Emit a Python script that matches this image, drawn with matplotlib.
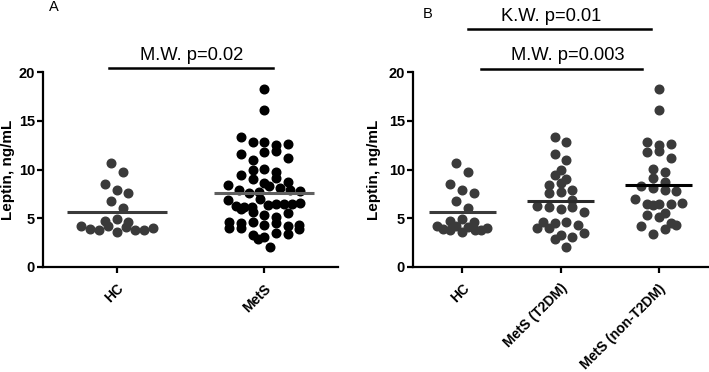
import numpy as np
import matplotlib.pyplot as plt

plt.rcParams['font.family'] = ['Liberation Sans', 'DejaVu Sans']

# Leptin values (ng/mL)
hc = [10.67, 9.78, 8.52, 7.9, 7.6, 6.81, 6.05, 4.72, 4.96, 4.65,
      4.17, 3.87, 3.77, 4.17, 3.63, 4.06, 3.84, 3.84, 3.97]
mets_t2dm = [13.3, 12.8, 11.6, 11.0, 10.0, 9.4, 9.05, 8.4, 8.6, 7.9,
             7.55, 7.65, 6.9, 6.29, 6.12, 6.0, 6.19, 5.67,
             4.65, 4.55, 4.65, 4.0, 3.95, 4.3, 3.3, 3.1, 3.5, 2.9, 2.05]
mets_non_t2dm = [18.3, 16.1, 12.83, 12.48, 12.65, 11.8, 11.9, 11.2, 10.1, 9.75,
                 9.17, 8.72, 8.31, 8.14, 7.87, 7.76, 6.94, 6.33, 6.5, 6.5,
                 6.5, 6.6, 5.3, 5.14, 5.56, 4.55, 4.17, 3.42, 3.93, 4.27]
mets = mets_t2dm + mets_non_t2dm

labels_a = ['HC', 'MetS']
labels_b = ['HC', 'MetS (T2DM)', 'MetS (non-T2DM)']
groups_a = [hc, mets]
groups_b = [hc, mets_t2dm, mets_non_t2dm]
colors_a = ['#3a3a3a', '#000000']
colors_b = ['#3a3a3a', '#3a3a3a', '#3a3a3a']
line_colors_a = ['#3a3a3a', '#606060']
line_colors_b = ['#3a3a3a', '#2a2a2a', '#000000']

fig = plt.figure(figsize=(7.09, 3.72), dpi=100)
ax_a = fig.add_axes([43 / 709, 105 / 372, 295 / 709, 195 / 372])
ax_b = fig.add_axes([413 / 709, 105 / 372, 295 / 709, 195 / 372])


def row_scatter_x(ax, xc, values, row_px=9.0, step_px=11.7, max_w=70):
    # Prism-like scatter: values grouped into rows, each row centred on the column
    vals = np.asarray(values, dtype=float)
    pts = ax.transData.transform(np.column_stack([np.full(len(vals), xc), vals]))
    order = np.argsort(vals, kind='stable')
    rows, cur, start = [], [], None
    for i in order:
        if cur and pts[i, 1] - start > row_px:
            rows.append(cur)
            cur = []
        if not cur:
            start = pts[i, 1]
        cur.append(i)
    rows.append(cur)
    xs = pts[:, 0].copy()
    for r in rows:
        r = sorted(r)
        n = len(r)
        step = step_px if n < 2 else min(step_px, max_w / (n - 1))
        for j, i in enumerate(r):
            xs[i] = pts[i, 0] + (j - (n - 1) / 2) * step
    return ax.transData.inverted().transform(np.column_stack([xs, pts[:, 1]]))[:, 0]


def draw_panel(ax, groups, labels, colors, line_colors, max_w):
    ax.set_xlim(-0.5, len(groups) - 0.5)
    ax.set_ylim(0, 20)
    for i, vals in enumerate(groups):
        xs = row_scatter_x(ax, i, vals, max_w=max_w)
        ax.plot(xs, vals, 'o', ms=6.2, color=colors[i], mec=colors[i], clip_on=False, zorder=3)
        m = np.mean(vals)
        ax.plot([i - 0.34, i + 0.34], [m, m], color=line_colors[i], lw=2.2, zorder=4,
                solid_capstyle='butt')
    for s in ['top', 'right']:
        ax.spines[s].set_visible(False)
    for s in ['left', 'bottom']:
        ax.spines[s].set_linewidth(1.6)
    ax.set_yticks([0, 5, 10, 15, 20])
    ax.set_xticks(range(len(groups)))
    ax.set_xticklabels(labels, rotation=45, ha='right', va='top', rotation_mode='anchor',
                       fontweight='bold', fontsize=10)
    for t in ax.get_yticklabels():
        t.set_fontweight('bold')
        t.set_fontsize(10.5)
    ax.tick_params(direction='out', length=4.3, width=1.6, pad=1.5)
    ax.tick_params(axis='x', pad=6)
    ax.set_ylabel('Leptin, ng/mL', fontweight='bold', fontsize=11)


draw_panel(ax_a, groups_a, labels_a, colors_a, line_colors_a, 72)
draw_panel(ax_b, groups_b, labels_b, colors_b, line_colors_b, 50)
ax_a.yaxis.set_label_coords(-0.095, 0.5)
ax_b.yaxis.set_label_coords(-0.11, 0.5)

# significance bars
ax_a.plot([-0.05, 1.06], [20.38, 20.38], color='black', lw=1.8, clip_on=False)
ax_a.text(0.507, 21.2, 'M.W. p=0.02', ha='center', va='baseline', fontsize=13.2)

ax_b.plot([0.06, 1.92], [24.45, 24.45], color='black', lw=1.8, clip_on=False)
ax_b.text(0.9, 25.23, 'K.W. p=0.01', ha='center', va='baseline', fontsize=13.2)
ax_b.plot([0.19, 1.83], [20.28, 20.28], color='black', lw=1.8, clip_on=False)
ax_b.text(1.07, 21.2, 'M.W. p=0.003', ha='center', va='baseline', fontsize=13.2)

fig.text(49 / 709, 1.0, 'A', ha='left', va='top', fontsize=10.5)
fig.text(423 / 709, 1 - 7 / 372, 'B', ha='left', va='top', fontsize=10.5)

fig.savefig('out.png', dpi=100)
